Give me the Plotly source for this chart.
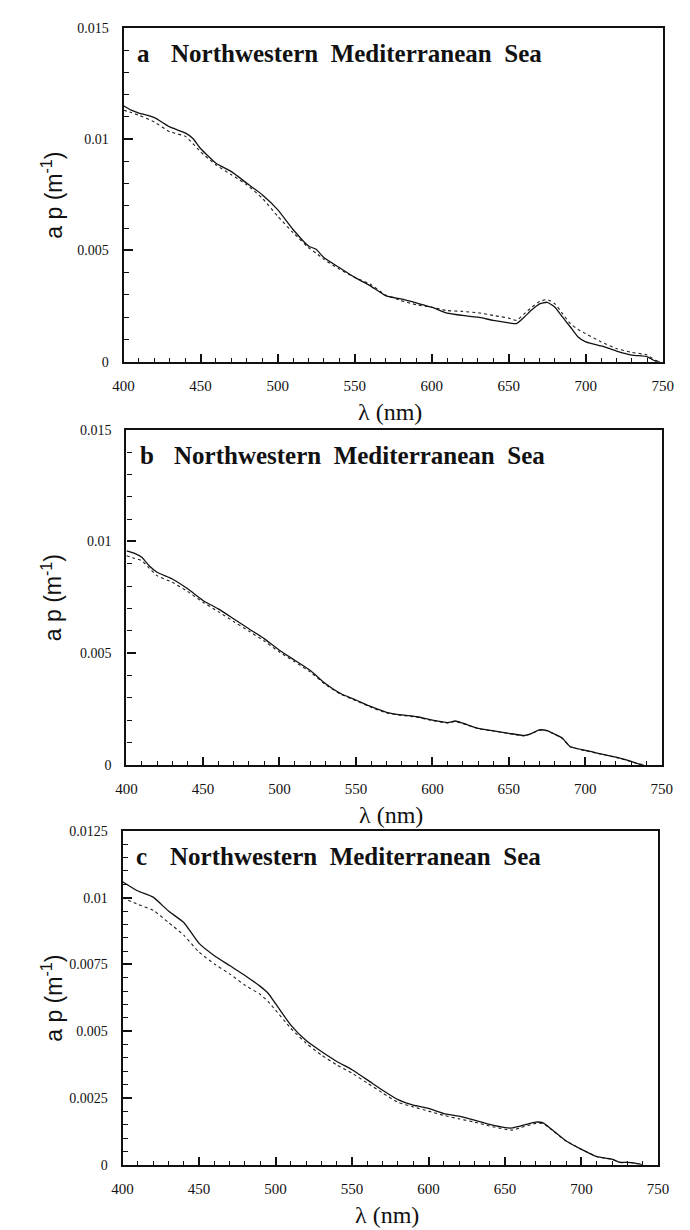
import plotly.graph_objects as go

W, H = 690, 1230

# ---------------- data ----------------
wl_a = [400, 405, 410, 420, 430, 440, 445, 450, 460, 470, 480, 490, 500, 510, 520, 525, 530, 540, 550,
        560, 570, 580, 590, 600, 610, 620, 630, 640, 650, 655, 660, 665, 670, 675, 680, 685, 690, 695,
        700, 710, 720, 730, 740, 745, 748]
solid_a = [0.0115, 0.0113, 0.01117, 0.01097, 0.01055, 0.01028, 0.01003, 0.00958, 0.00892, 0.00854,
           0.00802, 0.0075, 0.00683, 0.00594, 0.0052, 0.00505, 0.00468, 0.00423, 0.00379, 0.00342,
           0.00297, 0.00282, 0.00264, 0.00245, 0.00218, 0.00208, 0.0020, 0.00186, 0.00175, 0.00171,
           0.0020, 0.00233, 0.0026, 0.00267, 0.00245, 0.0020, 0.00156, 0.00111, 0.00089, 0.00071,
           0.00048, 0.0003, 0.00022, 0.00003, 0.0]
dash_a = [0.0113, 0.0112, 0.01107, 0.01077, 0.01033, 0.01013, 0.0098, 0.00943, 0.00884, 0.0084,
          0.00795, 0.00735, 0.00654, 0.0058, 0.00513, 0.00488, 0.0046, 0.00416, 0.00379, 0.00349,
          0.0030, 0.00275, 0.00256, 0.00245, 0.0023, 0.00226, 0.0022, 0.00208, 0.00196, 0.00186,
          0.00215, 0.00245, 0.0027, 0.00279, 0.0026, 0.00215, 0.00171, 0.00145, 0.00126, 0.00089,
          0.00059, 0.00042, 0.0003, 0.00007, 0.0]

wl_b = [400, 405, 410, 415, 420, 430, 440, 450, 460, 470, 480, 490, 500, 510, 520, 530, 540, 550, 560,
        570, 580, 590, 600, 610, 615, 620, 630, 640, 650, 660, 665, 670, 675, 680, 685, 690, 700, 710,
        720, 730, 735, 738]
solid_b = [0.00958, 0.00948, 0.00929, 0.0089, 0.00862, 0.00832, 0.00788, 0.00736, 0.00698, 0.00654,
           0.00609, 0.00565, 0.00513, 0.00468, 0.00423, 0.00364, 0.00319, 0.0029, 0.0026, 0.00235,
           0.00223, 0.00215, 0.0020, 0.00189, 0.00196, 0.00186, 0.00163, 0.00152, 0.00141, 0.00131,
           0.00141, 0.00156, 0.00153, 0.00137, 0.00119, 0.00082, 0.00064, 0.00049, 0.00034, 0.00015,
           0.00003, 0.0]
dash_b = [0.00936, 0.00925, 0.00914, 0.0088, 0.00847, 0.00817, 0.00776, 0.00728, 0.00686, 0.00642,
          0.00599, 0.00554, 0.00505, 0.00461, 0.00416, 0.0036, 0.00316, 0.00287, 0.00257, 0.00232,
          0.00221, 0.00213, 0.00198, 0.00187, 0.00194, 0.00184, 0.00162, 0.00151, 0.0014, 0.0013,
          0.0014, 0.00155, 0.00152, 0.00136, 0.00118, 0.00081, 0.00063, 0.00048, 0.00033, 0.00014,
          0.00003, 0.0]

wl_c = [400, 410, 420, 430, 440, 450, 460, 470, 480, 490, 495, 500, 510, 520, 530, 540, 550, 560, 570,
        580, 590, 600, 610, 620, 630, 640, 650, 655, 660, 670, 675, 680, 690, 700, 710, 720, 725, 730,
        735, 740]
solid_c = [0.0106, 0.01025, 0.01002, 0.0095, 0.00907, 0.00829, 0.00783, 0.00746, 0.00709, 0.00668,
           0.00643, 0.00603, 0.00523, 0.00465, 0.00424, 0.00387, 0.00356, 0.00318, 0.00279, 0.00244,
           0.00223, 0.00211, 0.00192, 0.00182, 0.00167, 0.00151, 0.00139, 0.00138, 0.00145, 0.0016,
           0.00157, 0.00135, 0.00089, 0.00058, 0.00031, 0.00021, 0.00009, 0.00009, 0.00006, 0.0]
dash_c = [0.0100, 0.00975, 0.00953, 0.00907, 0.0086, 0.00796, 0.00752, 0.00715, 0.00672, 0.00638,
          0.00612, 0.00579, 0.00511, 0.00455, 0.00411, 0.00374, 0.00343, 0.00306, 0.00269, 0.00234,
          0.00217, 0.00201, 0.00185, 0.00172, 0.0016, 0.00145, 0.00133, 0.0013, 0.00139, 0.00155,
          0.00154, 0.00133, 0.00089, 0.00058, 0.00031, 0.00021, 0.00009, 0.00009, 0.00006, 0.0]

x_ticks = [400, 450, 500, 550, 600, 650, 700, 750]
y_ticks_ab = [0, 0.005, 0.01, 0.015]
y_ticks_c = [0, 0.0025, 0.005, 0.0075, 0.01, 0.0125]
panel_letters = ["a", "b", "c"]
region_name = "Northwestern\u00a0\u00a0Mediterranean\u00a0\u00a0Sea"
x_title = "λ (nm)"
y_title = "a p (m<sup>-1</sup>)"

# ---------------- layout geometry (pixels) ----------------
# (left, right, top, bottom)
boxes = [(108, 665, 13, 351), (111, 664, 420, 759), (107, 660, 826, 1164)]
panels = [
    (wl_a, solid_a, dash_a, y_ticks_ab, 0.0010),
    (wl_b, solid_b, dash_b, y_ticks_ab, 0.0010),
    (wl_c, solid_c, dash_c, y_ticks_c, 0.0005),
]

SERIF = "Liberation Serif"
SANS = "Liberation Sans"

fig = go.Figure()
annotations = []
layout_axes = {}

def px(x):
    return x / W

def py(y):
    return 1 - y / H

for i, ((wl, sol, das, yt, yminor), (l, r, t, b), letter) in enumerate(zip(panels, boxes, panel_letters)):
    n = "" if i == 0 else str(i + 1)
    xa, ya = "x" + n, "y" + n
    fig.add_trace(go.Scatter(x=wl, y=das, mode="lines", xaxis=xa, yaxis=ya,
                             line=dict(color="#222", width=1.1, dash="3px,3px", shape="spline", smoothing=0.5),
                             showlegend=False, hoverinfo="skip"))
    fig.add_trace(go.Scatter(x=wl, y=sol, mode="lines", xaxis=xa, yaxis=ya,
                             line=dict(color="#111", width=1.3, shape="spline", smoothing=0.5),
                             showlegend=False, hoverinfo="skip"))
    layout_axes["xaxis" + n] = dict(
        domain=[px(l), px(r)], anchor=ya, range=[400, 750], tickvals=x_ticks,
        ticktext=[str(v) for v in x_ticks], ticks="inside", ticklen=8, tickwidth=1.5,
        tickcolor="#111", showline=True, linecolor="#111", linewidth=2.2, mirror=True,
        showgrid=False, zeroline=False, ticklabelstandoff=9,
        tickfont=dict(family=SERIF, size=15, color="#111"),
        minor=dict(dtick=10, ticks="inside", ticklen=4, tickwidth=1.3, tickcolor="#111", showgrid=False),
    )
    layout_axes["yaxis" + n] = dict(
        domain=[py(b), py(t)], anchor=xa, range=[0, yt[-1]], tickvals=yt,
        ticktext=[("%g" % v) for v in yt], ticks="inside", ticklen=9, tickwidth=1.5,
        tickcolor="#111", showline=True, linecolor="#111", linewidth=2.2, mirror=True,
        showgrid=False, zeroline=False, ticklabelstandoff=10,
        tickfont=dict(family=SERIF, size=14, color="#111"),
        minor=dict(dtick=yminor, tick0=0, ticks="inside", ticklen=5, tickwidth=1.3, tickcolor="#111",
                   showgrid=False),
    )
    # panel label and region name
    annotations.append(dict(x=px(l + 12), y=py(t + 26), xref="paper", yref="paper", text="<b>" + letter + "</b>",
                            showarrow=False, xanchor="left", yanchor="middle",
                            font=dict(family=SERIF, size=25, color="#111")))
    annotations.append(dict(x=px(l + 47), y=py(t + 26), xref="paper", yref="paper", text="<b>" + region_name + "</b>",
                            showarrow=False, xanchor="left", yanchor="middle",
                            font=dict(family=SERIF, size=25, color="#111")))
    # axis titles
    annotations.append(dict(x=px((l + r) / 2 - 3), y=py(b + 51), xref="paper", yref="paper", text=x_title,
                            showarrow=False, xanchor="center", yanchor="middle",
                            font=dict(family=SERIF, size=24, color="#111")))
    annotations.append(dict(x=px(34), y=py((t + b) / 2), xref="paper", yref="paper", text=y_title,
                            showarrow=False, xanchor="center", yanchor="middle", textangle=-90,
                            font=dict(family=SANS, size=23, color="#111")))

fig.update_layout(
    width=W, height=H, margin=dict(l=0, r=0, t=0, b=0),
    paper_bgcolor="white", plot_bgcolor="white",
    annotations=annotations, **layout_axes,
)

fig.write_html("out.html")
